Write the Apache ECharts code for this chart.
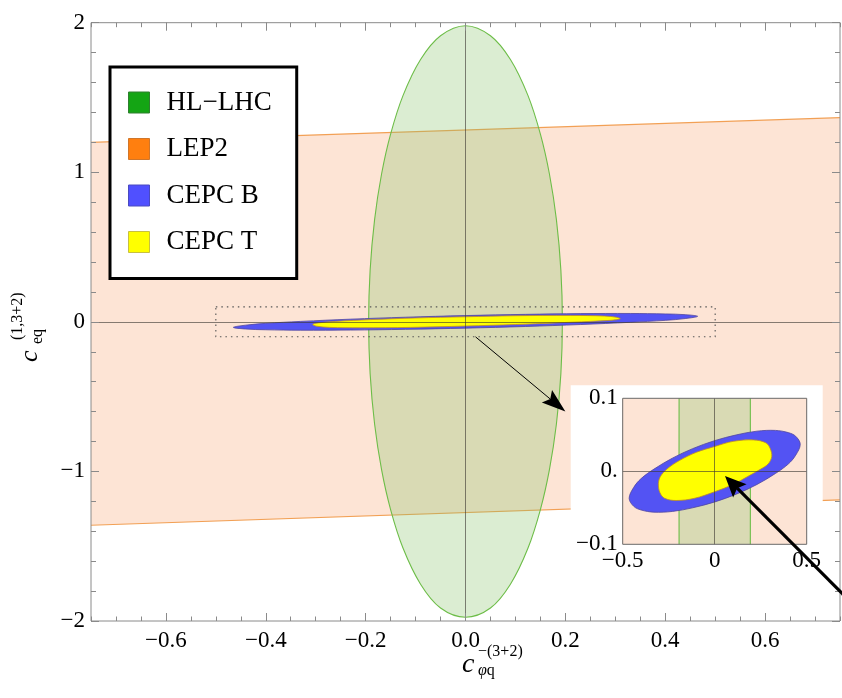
<!DOCTYPE html>
<html>
<head>
<meta charset="utf-8">
<script src="https://cdn.jsdelivr.net/npm/echarts@6/dist/echarts.min.js"></script>
<style>
  html, body { margin: 0; padding: 0; background: #ffffff; }
  #chart { width: 842px; height: 698px; }
</style>
</head>
<body>
<div id="chart"></div>
<script>
// ---- tick positions and their labels ----
const xMajorTicks = [-0.6, -0.4, -0.2, 0, 0.2, 0.4, 0.6];
const xMajorLabels = ['−0.6', '−0.4', '−0.2', '0.0', '0.2', '0.4', '0.6'];
const yMajorTicks = [-2, -1, 0, 1, 2];
const yMajorLabels = ['−2', '−1', '0', '1', '2'];
const insetXTicks = [-0.5, 0, 0.5];
const insetXLabels = ['−0.5', '0', '0.5'];
const insetYTicks = [-0.1, 0, 0.1];
const insetYLabels = ['−0.1', '0.', '0.1'];

// ---- legend entries ----
const seriesNames = ['HL−LHC', 'LEP2', 'CEPC B', 'CEPC T'];
const legendColors = ['#14a514', '#ff7f0f', '#5050ff', '#ffff00'];
const legendBorders = ['#2f7f2f', '#d0762a', '#4a4ac0', '#c8c040'];

// ---- allowed regions (c_phiq, c_eq) ----
// HL-LHC: tall ellipse around the origin
const hlLhcContour = [
  [0, 1.98], [0.05, 1.913], [0.09, 1.754], [0.125, 1.514], [0.15, 1.255], [0.168, 0.99],
  [0.182, 0.685], [0.191, 0.346], [0.194, 0], [0.191, -0.346], [0.182, -0.685], [0.168, -0.99],
  [0.15, -1.255], [0.125, -1.514], [0.09, -1.754], [0.05, -1.913], [0, -1.975],
  [-0.05, -1.913], [-0.09, -1.754], [-0.125, -1.514], [-0.15, -1.255], [-0.168, -0.99],
  [-0.182, -0.685], [-0.191, -0.346], [-0.194, 0], [-0.191, 0.346], [-0.182, 0.685],
  [-0.168, 0.99], [-0.15, 1.255], [-0.125, 1.514], [-0.09, 1.754], [-0.05, 1.913]
];
// LEP2: slightly tilted band, upper and lower edges
const lep2Upper = [[-0.75, 1.2], [0.75, 1.365]];
const lep2Lower = [[-0.75, -1.36], [0.75, -1.19]];
// CEPC baseline: long thin tilted ellipse
const cepcBContour = [
  [0.465, 0.037], [0.44, 0.048], [0.40, 0.053], [0.33, 0.056], [0.23, 0.055], [0.12, 0.050],
  [0.0, 0.042], [-0.12, 0.031], [-0.23, 0.018], [-0.33, 0.003], [-0.40, -0.010], [-0.44, -0.022],
  [-0.465, -0.037], [-0.44, -0.048], [-0.40, -0.053], [-0.33, -0.056], [-0.23, -0.055],
  [-0.12, -0.050], [0.0, -0.042], [0.12, -0.031], [0.23, -0.018], [0.33, -0.003],
  [0.40, 0.010], [0.44, 0.022]
];
// CEPC T: inner region
const cepcTContour = [
  [0.310, 0.020], [0.302, 0.031], [0.278, 0.039], [0.21, 0.043], [0.10, 0.041], [0.0, 0.034],
  [-0.10, 0.026], [-0.19, 0.015], [-0.26, 0.003], [-0.295, -0.007], [-0.306, -0.017],
  [-0.298, -0.029], [-0.272, -0.037], [-0.21, -0.040], [-0.11, -0.037], [0.0, -0.028],
  [0.10, -0.018], [0.18, -0.007], [0.25, 0.003], [0.29, 0.010]
];

// ---- annotations ----
const zoomWindow = [[-0.5, -0.1], [0.5, 0.1]];
const thinArrow = [[0.02, -0.1], [0.2, -0.6]];          // main axes
const thickArrow = [[0.708, -0.171], [0.056, -0.0065]];  // inset axes

const SERIF = 'Liberation Serif';

// colours of the drawn regions
const style = {
  bandFill: '#fde4d5',
  bandEdge: '#f2a055',
  lhcFill: 'rgba(135,195,105,0.30)',
  lhcEdge: '#6dbd48',
  bFill: '#5353f3',
  bEdge: 'rgba(80,70,160,0.9)',
  tFill: '#ffff00',
  tEdge: 'rgba(190,140,40,0.9)',
  zeroLine: 'rgba(60,55,50,0.62)'
};

function lookupLabel(ticks, labels, v) {
  for (let i = 0; i < ticks.length; i++) {
    if (Math.abs(ticks[i] - v) < 1e-9) return labels[i];
  }
  return '';
}

function polygonItem(points, fill, stroke, lineWidth) {
  return function (params, api) {
    if (params.dataIndex !== 0) return null;
    return {
      type: 'polygon',
      shape: { points: points.map(p => api.coord(p)), smooth: 0.35 },
      style: { fill: fill, stroke: stroke, lineWidth: lineWidth }
    };
  };
}

function bandItem(params, api) {
  if (params.dataIndex !== 0) return null;
  const up = lep2Upper.map(p => api.coord(p));
  const lo = lep2Lower.map(p => api.coord(p));
  return {
    type: 'group',
    children: [
      { type: 'polygon', shape: { points: [up[0], up[1], lo[1], lo[0]] }, style: { fill: style.bandFill } },
      { type: 'polyline', shape: { points: up }, style: { stroke: style.bandEdge, lineWidth: 1.2, fill: null } },
      { type: 'polyline', shape: { points: lo }, style: { stroke: style.bandEdge, lineWidth: 1.2, fill: null } }
    ]
  };
}

function windowItem(params, api) {
  if (params.dataIndex !== 0) return null;
  const a = api.coord(zoomWindow[0]);
  const b = api.coord(zoomWindow[1]);
  return {
    type: 'rect',
    shape: { x: Math.min(a[0], b[0]), y: Math.min(a[1], b[1]), width: Math.abs(b[0] - a[0]), height: Math.abs(b[1] - a[1]) },
    style: { fill: null, stroke: '#555', lineWidth: 1.1, lineDash: [1.5, 4] }
  };
}

function arrowItem(pts, width, headLen, headHalf) {
  return function (params, api) {
    if (params.dataIndex !== 0) return null;
    const a = api.coord(pts[0]);
    const b = api.coord(pts[1]);
    const dx = b[0] - a[0], dy = b[1] - a[1];
    const L = Math.hypot(dx, dy);
    const ux = dx / L, uy = dy / L, nx = -uy, ny = ux;
    const bx = b[0] - ux * headLen, by = b[1] - uy * headLen;
    const notch = [b[0] - ux * headLen * 0.82, b[1] - uy * headLen * 0.82];
    return {
      type: 'group',
      children: [
        { type: 'line', shape: { x1: a[0], y1: a[1], x2: notch[0], y2: notch[1] }, style: { stroke: '#000', lineWidth: width } },
        { type: 'polygon', shape: { points: [b, [bx + nx * headHalf, by + ny * headHalf], notch, [bx - nx * headHalf, by - ny * headHalf]] }, style: { fill: '#000' } }
      ]
    };
  };
}

const zeroMarkLine = (z) => ({
  silent: true,
  symbol: ['none', 'none'],
  z: z,
  label: { show: false },
  lineStyle: { color: style.zeroLine, width: 1, type: 'solid' },
  emphasis: { disabled: true },
  data: [{ xAxis: 0 }, { yAxis: 0 }]
});

const labelFont = { fontFamily: SERIF, fontSize: 23, color: '#000', fontStyle: 'normal', fontWeight: 'normal' };

// ---- axes ----
const tickColor = '#8a8a8a';
function mainX(position, major) {
  const ax = {
    gridIndex: 0, type: 'value', min: -0.75, max: 0.75, position: position, z: 8,
    axisLine: { show: false, onZero: false },
    splitLine: { show: false },
    axisTick: { show: true, inside: true, length: major ? 8 : 4.5, lineStyle: { color: tickColor, width: 1 } },
    axisLabel: { show: false }
  };
  if (major) {
    ax.axisTick.customValues = xMajorTicks;
    if (position === 'bottom') {
      ax.axisLabel = Object.assign({
        show: true, customValues: xMajorTicks, margin: 8,
        formatter: v => lookupLabel(xMajorTicks, xMajorLabels, v)
      }, labelFont);
    }
  } else {
    ax.interval = 0.05;
  }
  return ax;
}
function mainY(position, major) {
  const ax = {
    gridIndex: 0, type: 'value', min: -2, max: 2, position: position, z: 8,
    axisLine: { show: false, onZero: false },
    splitLine: { show: false },
    axisTick: { show: true, inside: true, length: major ? 8 : 5, lineStyle: { color: tickColor, width: 1 } },
    axisLabel: { show: false }
  };
  if (major) {
    ax.axisTick.customValues = yMajorTicks;
    if (position === 'left') {
      ax.axisLabel = Object.assign({
        show: true, customValues: yMajorTicks, margin: 6,
        formatter: v => lookupLabel(yMajorTicks, yMajorLabels, v)
      }, labelFont);
    }
  } else {
    ax.interval = 0.2;
  }
  return ax;
}

const insetX = {
  gridIndex: 1, type: 'value', min: -0.5, max: 0.5, position: 'bottom', z: 16,
  axisLine: { show: false, onZero: false }, splitLine: { show: false },
  axisTick: { show: false },
  axisLabel: Object.assign({
    show: true, customValues: insetXTicks, margin: 5,
    formatter: v => lookupLabel(insetXTicks, insetXLabels, v)
  }, labelFont)
};
const insetY = {
  gridIndex: 1, type: 'value', min: -0.1, max: 0.1, position: 'left', z: 16,
  axisLine: { show: false, onZero: false }, splitLine: { show: false },
  axisTick: { show: false },
  axisLabel: Object.assign({
    show: true, customValues: insetYTicks, margin: 5,
    formatter: v => lookupLabel(insetYTicks, insetYLabels, v)
  }, labelFont)
};

// ---- series ----
function regionSeries(xi, yi, z, withZero) {
  const list = [
    { name: seriesNames[1], data: lep2Upper.concat(lep2Lower), renderItem: bandItem, idx: 1 },
    { name: seriesNames[0], data: hlLhcContour, renderItem: polygonItem(hlLhcContour, style.lhcFill, style.lhcEdge, 1.1), idx: 0 },
    { name: seriesNames[2], data: cepcBContour, renderItem: polygonItem(cepcBContour, style.bFill, style.bEdge, 0.9), idx: 2 },
    { name: seriesNames[3], data: cepcTContour, renderItem: polygonItem(cepcTContour, style.tFill, style.tEdge, 0.9), idx: 3 }
  ];
  return list.map((s, k) => {
    const out = {
      type: 'custom', name: s.name, xAxisIndex: xi, yAxisIndex: yi, z: z,
      clip: true, silent: true, animation: false,
      itemStyle: { color: legendColors[s.idx], borderColor: legendBorders[s.idx], borderWidth: 1 },
      data: s.data, renderItem: s.renderItem
    };
    if (withZero && k === 3) out.markLine = zeroMarkLine(z + 2);
    return out;
  });
}

const series = [].concat(
  regionSeries(0, 0, 2, true),
  [{
    type: 'custom', xAxisIndex: 0, yAxisIndex: 0, z: 4, clip: false, silent: true, animation: false,
    data: zoomWindow, renderItem: windowItem
  }, {
    type: 'custom', xAxisIndex: 0, yAxisIndex: 0, z: 4, clip: false, silent: true, animation: false,
    data: thinArrow, renderItem: arrowItem(thinArrow, 1, 24, 8)
  }],
  regionSeries(4, 4, 10, true),
  [{
    type: 'custom', xAxisIndex: 4, yAxisIndex: 4, z: 20, clip: false, silent: true, animation: false,
    data: thickArrow, renderItem: arrowItem(thickArrow, 3.2, 21, 9.5)
  }]
);

// inset placement
const inset = { left: 622.7, top: 398.3, width: 184, height: 146 };

const option = {
  animation: false,
  backgroundColor: '#ffffff',
  textStyle: { fontFamily: SERIF },
  grid: [
    { left: 91, top: 22.7, right: 2, bottom: 77, show: true, z: 7,
      backgroundColor: 'transparent', borderColor: '#8a8a8a', borderWidth: 1 },
    { left: inset.left, top: inset.top, width: inset.width, height: inset.height, show: true, z: 15,
      backgroundColor: 'transparent', borderColor: '#6a6a6a', borderWidth: 1 }
  ],
  xAxis: [mainX('bottom', true), mainX('bottom', false), mainX('top', true), mainX('top', false), insetX],
  yAxis: [mainY('left', true), mainY('left', false), mainY('right', true), mainY('right', false), insetY],
  legend: {
    orient: 'vertical', left: 110, top: 67, z: 9,
    data: seriesNames,
    icon: 'rect', itemWidth: 21, itemHeight: 21, itemGap: 19.5,
    padding: [22, 25, 23, 18],
    backgroundColor: '#ffffff', borderColor: '#000000', borderWidth: 3, borderRadius: 0,
    selectedMode: false,
    itemStyle: { borderWidth: 1 },
    textStyle: { fontFamily: SERIF, fontSize: 27, color: '#000', lineHeight: 21, padding: [0, 0, 0, 12] }
  },
  graphic: [
    // white panel behind the magnified view
    { type: 'rect', z: 6, silent: true,
      shape: { x: inset.left - 52, y: inset.top - 13, width: inset.width + 68, height: inset.height + 56 },
      style: { fill: '#ffffff' } },
    // x axis title  c_{phi q}^{-(3+2)}
    { type: 'group', z: 10, silent: true, children: [
      { type: 'text', x: 462, y: 665, style: { text: 'c', font: 'italic 28px ' + SERIF, fill: '#000', verticalAlign: 'middle' } },
      { type: 'text', x: 478, y: 652, style: { text: '−(3+2)', font: '16px ' + SERIF, fill: '#000', verticalAlign: 'middle' } },
      { type: 'text', x: 478, y: 671, style: {
        text: '{i|φ}q', font: '16px ' + SERIF, fill: '#000', verticalAlign: 'middle',
        rich: { i: { fontStyle: 'italic', fontFamily: SERIF, fontSize: 16 } } } }
    ] },
    // y axis title  c_{eq}^{(1,3+2)}
    { type: 'group', x: 38, y: 362, rotation: Math.PI / 2, z: 10, silent: true, children: [
      { type: 'text', x: 0, y: -8, style: { text: 'c', font: 'italic 26px ' + SERIF, fill: '#000', verticalAlign: 'middle' } },
      { type: 'text', x: 22, y: -20, style: { text: '(1,3+2)', font: '16px ' + SERIF, fill: '#000', verticalAlign: 'middle' } },
      { type: 'text', x: 18, y: 0, style: { text: 'eq', font: '16px ' + SERIF, fill: '#000', verticalAlign: 'middle' } }
    ] }
  ],
  series: series
};

const chart = echarts.init(document.getElementById('chart'), null, { renderer: 'canvas' });
chart.setOption(option);
</script>
</body>
</html>
